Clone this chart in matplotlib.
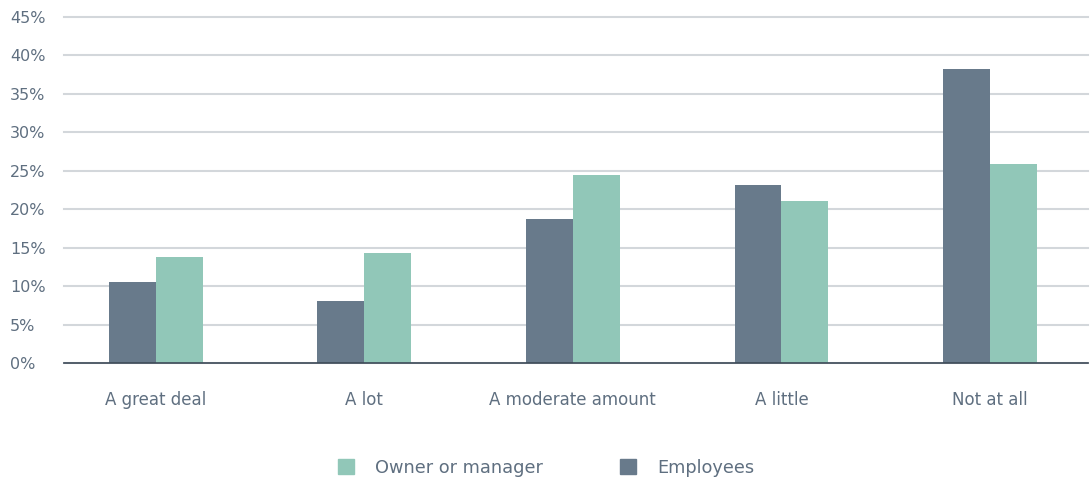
import matplotlib
matplotlib.use("Agg")
import matplotlib.pyplot as plt
from matplotlib.patches import Patch
import numpy as np

categories = ["A great deal", "A lot", "A moderate amount", "A little", "Not at all"]
employees = [10.5, 8.1, 18.7, 23.1, 38.2]
owners = [13.8, 14.3, 24.4, 21.1, 25.9]
yticks = [0, 5, 10, 15, 20, 25, 30, 35, 40, 45]

c_emp = "#687a8b"
c_own = "#91c7b8"
c_text = "#5f6f80"

plt.rcParams['font.family'] = ['DejaVu Sans']

fig = plt.figure(figsize=(10.9, 4.83), dpi=100)
ax = fig.add_axes([64/1090, (483-363)/483, (1088-64)/1090, (363-17)/483])

x = np.arange(len(categories))
w = 0.225
ax.bar(x - w/2, employees, width=w, color=c_emp, zorder=3)
ax.bar(x + w/2, owners, width=w, color=c_own, zorder=3)

ax.set_xlim(-0.44, 4.47)
ax.set_ylim(0, 45)
ax.set_yticks(yticks)
ax.set_yticklabels([f"{v}%" for v in yticks], ha="left")
ax.tick_params(axis="y", length=0, pad=39, labelsize=11.5, labelcolor=c_text)
ax.set_xticks(x)
ax.set_xticklabels(categories)
ax.tick_params(axis="x", length=0, pad=20, labelsize=12, labelcolor=c_text)

ax.yaxis.grid(True, color="#d3d7db", linewidth=1.5, zorder=0)
for gl in ax.get_ygridlines():
    gl.set_clip_on(False)
for s in ["top", "right", "left"]:
    ax.spines[s].set_visible(False)
ax.spines["bottom"].set_color("#3d4a57")
ax.spines["bottom"].set_linewidth(1.2)
ax.spines["bottom"].set_zorder(4)

handles = [Patch(color=c_own, label="Owner or manager"), Patch(color=c_emp, label="Employees")]
leg = fig.legend(handles=handles, loc="center", bbox_to_anchor=(546/1090, 1-468/483),
                 ncol=2, frameon=False, fontsize=12.8, handlelength=0.9, handleheight=0.9,
                 handletextpad=1.2, columnspacing=4.3)
for t in leg.get_texts():
    t.set_color(c_text)

fig.savefig("out.png", dpi=100)
